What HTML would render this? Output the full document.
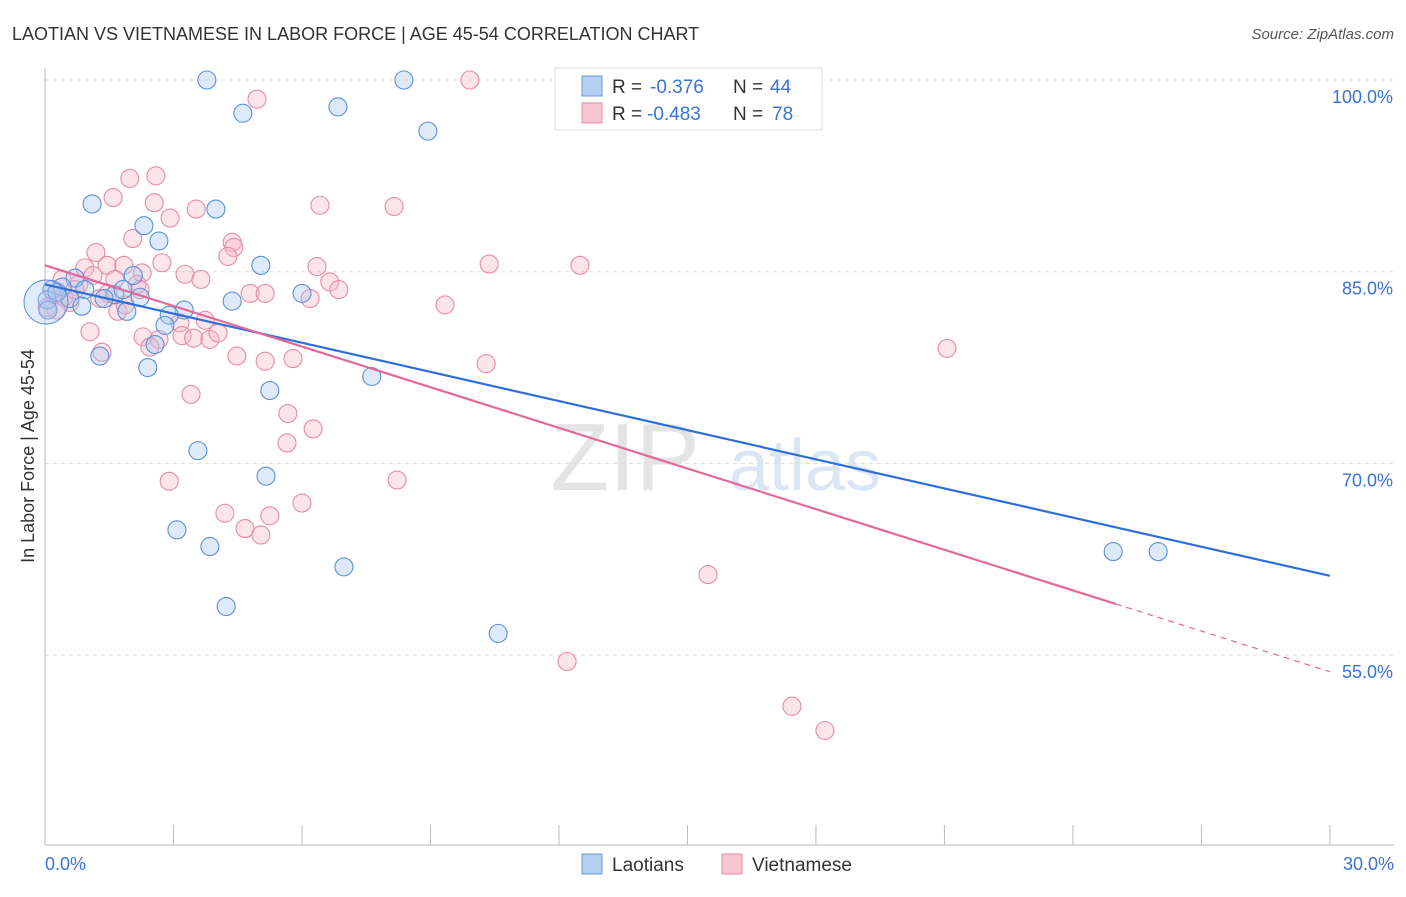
<!DOCTYPE html>
<html><head><meta charset="utf-8"><style>
body{margin:0;background:#fff;font-family:"Liberation Sans",sans-serif}
svg text{font-family:"Liberation Sans",sans-serif}
</style></head><body>
<svg width="1406" height="892">
<text x="12" y="40" font-size="18" fill="#333">LAOTIAN VS VIETNAMESE IN LABOR FORCE | AGE 45-54 CORRELATION CHART</text>
<text x="1394" y="39" font-size="15" fill="#555" font-style="italic" text-anchor="end">Source: ZipAtlas.com</text>
<text x="625" y="490" font-size="96" fill="#e4e4e4" font-family="Liberation Serif" text-anchor="middle">ZIP</text>
<text x="805" y="490" font-size="72" fill="#dbe6f5" text-anchor="middle">atlas</text>
<g id="grid"></g><g id="axes"></g><g id="pink"></g><g id="blue"></g><g id="lines"></g>
<text transform="translate(34,456) rotate(-90)" font-size="18" fill="#333" text-anchor="middle">In Labor Force | Age 45-54</text>
<text x="45" y="870" font-size="18" fill="#3a72d8">0.0%</text>
<text x="1394" y="870" font-size="18" fill="#3a72d8" text-anchor="end">30.0%</text>
<g>
<rect x="555" y="68" width="267" height="62" fill="#fff" stroke="#ddd"/>
<rect x="582" y="76" width="20" height="20" fill="#b5cff3" stroke="#6d9be0"/>
<rect x="582" y="103" width="20" height="20" fill="#f8c5d3" stroke="#e88aa6"/>
<text y="93" font-size="19" fill="#333"><tspan x="612">R =</tspan><tspan x="650" fill="#3a72d8">-0.376</tspan><tspan x="733">N =</tspan><tspan x="770" fill="#3a72d8">44</tspan></text>
<text y="120" font-size="19" fill="#333"><tspan x="612">R =</tspan><tspan x="647" fill="#3a72d8">-0.483</tspan><tspan x="733">N =</tspan><tspan x="772" fill="#3a72d8">78</tspan></text>
</g>
<g>
<rect x="582" y="854" width="20" height="20" fill="#b5cff3" stroke="#6d9be0"/>
<text x="612" y="871" font-size="19" fill="#333">Laotians</text>
<rect x="722" y="854" width="20" height="20" fill="#f8c5d3" stroke="#e88aa6"/>
<text x="752" y="871" font-size="19" fill="#333">Vietnamese</text>
</g>
</svg>
<script>
const yTicks=[100,85,70,55];
const yTickLabels=["100.0%","85.0%","70.0%","55.0%"];
const blueX=[3.78,8.38,4.62,6.84,8.94,1.10,3.99,2.31,2.66,5.04,0.70,2.06,0.16,0.40,0.93,1.63,2.22,1.82,6.00,4.37,0.58,0.05,0.07,0.86,1.91,3.25,2.90,2.80,2.57,1.28,2.40,7.63,5.25,3.57,5.16,3.08,3.85,6.98,4.23,10.58,24.94,25.99,0.28,1.38];
const blueY=[100,100,97.4,97.9,96.0,90.3,89.9,88.6,87.4,85.5,84.5,84.7,83.6,83.8,83.6,83.2,83.0,83.6,83.3,82.7,82.9,82.8,82.0,82.3,81.9,82.0,81.6,80.8,79.3,78.4,77.5,76.8,75.7,71.0,69.0,64.8,63.5,61.9,58.8,56.7,63.1,63.1,83.4,82.9];
const pinkX=[9.92,4.95,1.98,2.59,1.59,2.55,3.53,6.42,8.15,2.92,2.05,4.37,4.41,4.27,1.19,2.73,0.93,1.45,1.84,1.12,2.27,3.27,3.64,6.35,10.37,12.49,0.40,0.79,1.63,2.15,6.65,6.86,4.79,5.14,6.19,9.34,0.23,0.58,1.28,1.70,0.26,3.15,3.74,1.05,2.29,3.20,3.47,3.85,4.04,2.66,1.33,4.48,5.14,5.79,10.30,21.06,3.41,5.67,6.26,5.65,2.90,8.22,6.00,4.20,5.25,4.67,5.04,15.48,12.19,17.44,18.21,0.05,0.44,0.70,2.45,1.87,2.22,1.47];
const pinkY=[100,98.5,92.3,92.5,90.8,90.4,89.9,90.2,90.1,89.2,87.6,87.3,86.9,86.2,86.5,85.7,85.3,85.5,85.5,84.7,84.9,84.8,84.4,85.4,85.6,85.5,84.4,84.0,84.4,84.0,84.2,83.6,83.3,83.3,82.9,82.4,83.2,82.6,82.9,81.9,82.0,81.0,81.2,80.3,79.9,80.0,79.8,79.7,80.2,79.7,78.7,78.4,78.0,78.2,77.8,79.0,75.4,73.9,72.7,71.6,68.6,68.7,66.9,66.1,65.9,64.9,64.4,61.3,54.5,51.0,49.1,82.2,83.0,83.6,79.1,82.4,83.6,83.3];
const blueTrend=[84.0,61.2];
const pinkTrend=[85.5,53.7];
const pinkSolidEnd=25.0;
const NS="http://www.w3.org/2000/svg";
const xs=v=>45+v*42.83, ys=v=>80+(100-v)*12.78;
function mk(t,a,p){const e=document.createElementNS(NS,t);for(const k in a)e.setAttribute(k,a[k]);p.appendChild(e);return e;}
const grid=document.getElementById('grid');
yTicks.forEach((t,i)=>{
 const l=mk('line',{x1:45,x2:1394,y1:ys(t),y2:ys(t),stroke:'#ddd','stroke-dasharray':'4,4'},grid);
 
 
 const tx=mk('text',{x:1393,y:ys(t)+23,'font-size':18,fill:'#3a72d8','text-anchor':'end'},grid);
 tx.textContent=yTickLabels[i];
 
 
});
const ax=document.getElementById('axes');
const ya=mk('line',{x1:45,x2:45,y1:68,y2:845,stroke:'#bbb'},ax);


const xa=mk('line',{x1:45,x2:1394,y1:845,y2:845,stroke:'#bbb'},ax);


for(let v=3;v<=30;v+=3){const t=mk('line',{x1:xs(v),x2:xs(v),y1:825,y2:845,stroke:'#bbb'},ax);
 
 }
function dots(X,Y,g,fill,stroke,name){X.forEach((x,i)=>{
 const c=mk('circle',{cx:xs(x),cy:ys(Y[i]),r:9,fill:fill,'fill-opacity':0.38,stroke:stroke,'stroke-width':1.1},g);
 
 });}
const pg=document.getElementById('pink'),bg=document.getElementById('blue');
dots(pinkX,pinkY,pg,'#f6b8ca','#e88aa6','vietnamese-point');
dots(blueX,blueY,bg,'#a9c8f0','#5b8fdc','laotian-point');
const big=mk('circle',{cx:46,cy:302,r:22,fill:'#a9c8f0','fill-opacity':0.35,stroke:'#5b8fdc'},bg);


const lg=document.getElementById('lines');
const bl=mk('line',{x1:xs(0),y1:ys(blueTrend[0]),x2:xs(30),y2:ys(blueTrend[1]),stroke:'#2f6fd6','stroke-width':2.2},lg);


const py=x=>pinkTrend[0]+(pinkTrend[1]-pinkTrend[0])*x/30;
const pl=mk('line',{x1:xs(0),y1:ys(pinkTrend[0]),x2:xs(pinkSolidEnd),y2:ys(py(pinkSolidEnd)),stroke:'#e4689a','stroke-width':2.2},lg);


const pd=mk('line',{x1:xs(pinkSolidEnd),y1:ys(py(pinkSolidEnd)),x2:xs(30),y2:ys(pinkTrend[1]),stroke:'#e4689a','stroke-width':1.2,'stroke-dasharray':'6,5'},lg);


</script>
</body></html>
